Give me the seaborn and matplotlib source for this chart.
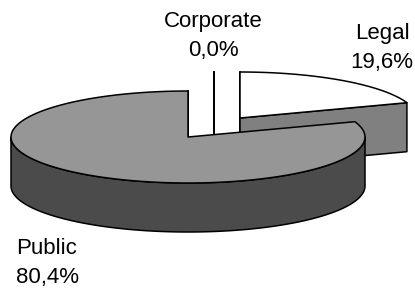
import numpy as np
import matplotlib
matplotlib.use("Agg")
import matplotlib.pyplot as plt
from matplotlib.patches import Polygon
import seaborn as sns

# data
labels = ["Corporate", "Legal", "Public"]
shares = [0.0, 19.6, 80.4]
top_colors = ["#ffffff", "#ffffff", "#969696"]
side_colors = ["#808080", "#808080", "#4b4b4b"]

# layout (pixel units, y grows downward)
CX, CY = 188, 137          # pie centre
RX, RY = 177, 46           # ellipse radii
DEPTH = 49
offsets = {"Corporate": (26, -19), "Legal": (52, -19), "Public": (0, 0)}
label_pos = {"Corporate": (213, 27), "Legal": (382, 39), "Public": (47, 254)}
LINE_GAP = 29

sns.set_style("white")
plt.rcParams["font.family"] = ["Liberation Sans", "DejaVu Sans"]

fig = plt.figure(figsize=(4.15, 2.88), dpi=100)
ax = fig.add_axes([0, 0, 1, 1])
ax.set_xlim(0, 415)
ax.set_ylim(288, 0)
ax.axis("off")


def rim(cx, cy, deg, dz=0.0):
    t = np.radians(deg)
    return cx + RX * np.cos(t), cy - RY * np.sin(t) + dz


def arc(cx, cy, d1, d2, dz=0.0, n=120):
    ts = np.linspace(d1, d2, n)
    return [rim(cx, cy, t, dz) for t in ts]


def poly(pts, color, z):
    ax.add_patch(Polygon(pts, closed=True, facecolor=color, edgecolor="black",
                         linewidth=1.1, joinstyle="round", zorder=z))


# angles: start at 90 deg, clockwise
bounds = []
start = 90.0
for v in shares:
    end = start - v * 3.6
    bounds.append((start, end))
    start = end

# back slices first, the big front slice last
order = [1, 0, 2]
for k, i in enumerate(order):
    name = labels[i]
    ox, oy = offsets[name]
    cx, cy = CX + ox, CY + oy
    a1, a2 = bounds[i]
    z = 1 + k * 3

    # radial cut faces
    for ang, normal in ((a1, a1 + 90), (a2, a2 - 90)):
        if np.sin(np.radians(normal)) <= 1e-9:
            p = rim(cx, cy, ang)
            pts = [(cx, cy), p, (p[0], p[1] + DEPTH), (cx, cy + DEPTH)]
            poly(pts, side_colors[i], z)

    # outer wall, front half only
    for n in range(-2, 2):
        lo, hi = -180 + 360 * n, 360 * n
        s, e = max(lo, a2), min(hi, a1)
        if e - s > 0.01:
            top = arc(cx, cy, s, e)
            bot = arc(cx, cy, e, s, DEPTH)
            poly(top + bot, side_colors[i], z + 1)

    # top face
    pts = [(cx, cy)] + arc(cx, cy, a1, a2)
    poly(pts, top_colors[i], z + 2)

# labels
for name, v in zip(labels, shares):
    x, y = label_pos[name]
    pct = f"{v:.1f}%".replace(".", ",")
    ax.text(x, y, name, ha="center", va="baseline", fontsize=16, color="black")
    ax.text(x, y + LINE_GAP, pct, ha="center", va="baseline", fontsize=16, color="black")

fig.savefig("out.png", dpi=100, facecolor="white")
